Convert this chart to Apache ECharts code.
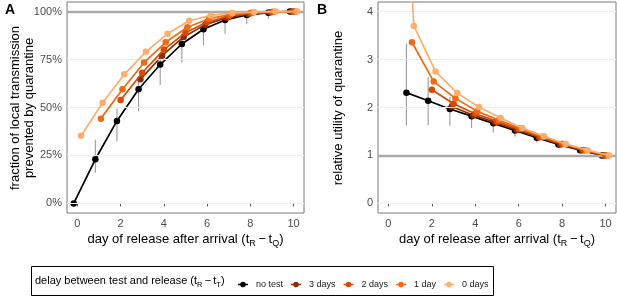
<!DOCTYPE html>
<html><head><meta charset="utf-8">
<script src="https://cdn.jsdelivr.net/npm/echarts@6/dist/echarts.min.js"></script>
<style>html,body{margin:0;padding:0;background:#fff}#c{width:617px;height:296px}</style>
</head><body><div id="c"></div>
<script>
// ---- data ----
const days = [0, 1, 2, 3, 4, 5, 6, 7, 8, 9, 10];
const seriesNames = ['no test', '3 days', '2 days', '1 day', '0 days'];
const xTicks = [0, 2, 4, 6, 8, 10];
const yTicksA = [0, 25, 50, 75, 100];
const yTickLabelsA = ['0%', '25%', '50%', '75%', '100%'];
const yTicksB = [0, 1, 2, 3, 4];

// Panel A: fraction of local transmission prevented (%)
const aNoTest = [0, 23, 43, 59.5, 72.4, 83.1, 90.8, 95.6, 98.2, 99.4, 100];
const a3days  = [null, null, null, 64.7, 77, 86.8, 93.2, 96.8, 98.8, 99.6, 100];
const a2days  = [null, null, 53.9, 68.1, 80.2, 89, 94.6, 97.6, 99.2, 99.8, 100];
const a1days  = [null, 44.2, 59.5, 73.5, 84, 91.8, 96.3, 98.5, 99.5, 99.9, 100];
const a0days  = [35.3, 52.5, 67.3, 79, 88.5, 95.2, 98, 99.3, 99.8, 100, 100];
const aErrLo  = [null, 16, 32.3, 47.9, 61.7, 73.5, 82.5, 88.5, 93.4, 96.3, 98.6];
const aErrHi  = [null, 33.2, 49.5, 63.5, 75.5, 86, 93, 97, 99.2, 99.9, 100];

// Panel B: relative utility of quarantine
const bNoTest = [null, 2.31, 2.14, 1.97, 1.82, 1.67, 1.52, 1.37, 1.23, 1.11, 1.0];
const b3days  = [null, null, null, 2.02, 1.84, 1.69, 1.53, 1.38, 1.23, 1.11, 1.0];
const b2days  = [null, null, 2.37, 2.08, 1.87, 1.71, 1.55, 1.38, 1.24, 1.11, 1.0];
const b1days  = [null, 3.36, 2.54, 2.19, 1.92, 1.74, 1.56, 1.39, 1.24, 1.11, 1.0];
const b0days  = [12, 3.70, 2.75, 2.30, 2.01, 1.78, 1.57, 1.40, 1.24, 1.11, 1.0];
const bErrLo  = [null, 1.63, 1.63, 1.62, 1.57, 1.48, 1.39, 1.27, 1.17, 1.07, 0.99];
const bErrHi  = [null, 3.33, 2.63, 2.22, 1.88, 1.72, 1.55, 1.39, 1.24, 1.11, 1.0];

// ---- style ----
const colors = ['#000000', '#8c2d04', '#d94801', '#f16913', '#fdae6b'];
const dodge = [-0.17, -0.085, 0, 0.085, 0.17];
const FONT = 'Liberation Sans, Arial, Helvetica, sans-serif';

const chart = echarts.init(document.getElementById('c'), null, {renderer: 'canvas'});

function toPts(vals, off) {
  const out = [];
  days.forEach((d, i) => { if (vals[i] != null) out.push([d + off, vals[i]]); });
  return out;
}

function xAxisDef(gi) {
  return {
    type: 'value', gridIndex: gi, min: -0.48, max: 10.48,
    axisLine: {show: false},
    axisTick: {show: true, length: 3, lineStyle: {color: '#555'}, customValues: xTicks},
    axisLabel: {color: '#4d4d4d', fontSize: 11, fontFamily: FONT, margin: 5, customValues: xTicks},
    splitLine: {show: false}
  };
}
function yAxisDef(gi, min, max, ticks, fmt) {
  return {
    type: 'value', gridIndex: gi, min: min, max: max,
    axisLine: {show: false},
    axisTick: {show: true, length: 3, lineStyle: {color: '#555'}, customValues: ticks},
    axisLabel: {color: '#4d4d4d', fontSize: 11, fontFamily: FONT, margin: 5, customValues: ticks, formatter: fmt},
    splitLine: {show: false}
  };
}

function helper(gi, ticks, refVal) {
  return [{
    type: 'line', xAxisIndex: gi, yAxisIndex: gi, data: [[-100, -100]], showSymbol: false,
    silent: true, z: 1, lineStyle: {width: 0},
    markLine: {silent: true, symbol: 'none', label: {show: false}, animation: false,
      lineStyle: {color: '#ececec', width: 1, type: 'solid'},
      data: ticks.map(v => ({yAxis: v}))}
  }, {
    type: 'line', xAxisIndex: gi, yAxisIndex: gi, data: [[-100, -100]], showSymbol: false,
    silent: true, z: 1, lineStyle: {width: 0},
    markLine: {silent: true, symbol: 'none', label: {show: false}, animation: false,
      lineStyle: {color: '#aaaaaa', width: 2.4, type: 'solid'},
      data: [{yAxis: refVal}]}
  }];
}

function errBars(gi, lo, hi, off) {
  const d = [];
  days.forEach((x, i) => { if (lo[i] != null) d.push([x + off, lo[i], hi[i]]); });
  return {
    type: 'custom', xAxisIndex: gi, yAxisIndex: gi, data: d, silent: true, z: 2,
    renderItem: (params, api) => {
      const p1 = api.coord([api.value(0), api.value(1)]);
      const p2 = api.coord([api.value(0), api.value(2)]);
      return {type: 'line', shape: {x1: p1[0], y1: p1[1], x2: p2[0], y2: p2[1]},
        style: {stroke: '#9a9a9a', lineWidth: 1.1}};
    }
  };
}

function lineSeries(gi, arrs) {
  return arrs.map((vals, k) => ({
    type: 'line', name: seriesNames[k], xAxisIndex: gi, yAxisIndex: gi,
    data: toPts(vals, dodge[k]), symbol: 'circle', symbolSize: 6.5, showSymbol: true,
    clip: true, z: 3 + k, animation: false,
    itemStyle: {color: colors[k]}, lineStyle: {color: colors[k], width: 1.7}
  }));
}

const legendIcon = 'path://M0,2.3H10V3.7H0Z M5,0.2A2.8,2.8 0 1,1 4.99,0.2Z';

const option = {
  animation: false,
  textStyle: {fontFamily: FONT},
  grid: [
    {left: 67, top: 2, width: 237, height: 211, show: true, borderColor: '#7a7a7a', borderWidth: 1, backgroundColor: '#fff'},
    {left: 378, top: 2, width: 238, height: 211, show: true, borderColor: '#7a7a7a', borderWidth: 1, backgroundColor: '#fff'}
  ],
  xAxis: [xAxisDef(0), xAxisDef(1)],
  yAxis: [
    yAxisDef(0, -5, 105, yTicksA, v => yTickLabelsA[yTicksA.indexOf(v)] ?? (v + '%')),
    yAxisDef(1, -0.2, 4.2, yTicksB, v => String(v))
  ],
  legend: {
    data: seriesNames, left: 233, top: 275, itemWidth: 10, itemHeight: 6, itemGap: 8,
    icon: legendIcon, textStyle: {fontSize: 9, color: '#1a1a1a', fontFamily: FONT, padding: [0, 0, 0, 3]}
  },
  series: [].concat(
    helper(0, yTicksA, 100),
    helper(1, yTicksB, 1),
    [errBars(0, aErrLo, aErrHi, dodge[0]), errBars(1, bErrLo, bErrHi, dodge[0])],
    lineSeries(0, [aNoTest, a3days, a2days, a1days, a0days]),
    lineSeries(1, [bNoTest, b3days, b2days, b1days, b0days])
  ),
  graphic: [
    {type: 'text', left: 5, top: 3, style: {text: 'A', font: 'bold 14px ' + FONT, fill: '#000'}},
    {type: 'text', left: 317, top: 3, style: {text: 'B', font: 'bold 14px ' + FONT, fill: '#000'}},
    {type: 'text', x: 22, y: 108, rotation: Math.PI / 2,
      style: {text: 'fraction of local transmission\nprevented by quarantine', font: '13px ' + FONT,
        fill: '#000', align: 'center', verticalAlign: 'middle', lineHeight: 14}},
    {type: 'text', x: 338, y: 108, rotation: Math.PI / 2,
      style: {text: 'relative utility of quarantine', font: '13px ' + FONT,
        fill: '#000', align: 'center', verticalAlign: 'middle'}},
    {type: 'text', x: 185.5, y: 239,
      style: {text: 'day of release after arrival (t{s|R}\u2009\u2212\u2009t{s|Q})', font: '13px ' + FONT, fill: '#000',
        align: 'center', verticalAlign: 'middle', lineHeight: 18,
        rich: {s: {fontSize: 9, fontFamily: FONT, lineHeight: 10, verticalAlign: 'bottom', fill: '#000'}}}},
    {type: 'text', x: 497, y: 239,
      style: {text: 'day of release after arrival (t{s|R}\u2009\u2212\u2009t{s|Q})', font: '13px ' + FONT, fill: '#000',
        align: 'center', verticalAlign: 'middle', lineHeight: 18,
        rich: {s: {fontSize: 9, fontFamily: FONT, lineHeight: 10, verticalAlign: 'bottom', fill: '#000'}}}},
    {type: 'rect', shape: {x: 31.5, y: 266.5, width: 462, height: 29}, style: {fill: 'none', stroke: '#000', lineWidth: 1}},
    {type: 'text', x: 35, y: 281,
      style: {text: 'delay between test and release (t{s|R}\u2009\u2212\u2009t{s|T})', font: '11px ' + FONT, fill: '#000',
        align: 'left', verticalAlign: 'middle', lineHeight: 15,
        rich: {s: {fontSize: 7.5, fontFamily: FONT, lineHeight: 8, verticalAlign: 'bottom', fill: '#000'}}}}
  ]
};
chart.setOption(option);
</script></body></html>
